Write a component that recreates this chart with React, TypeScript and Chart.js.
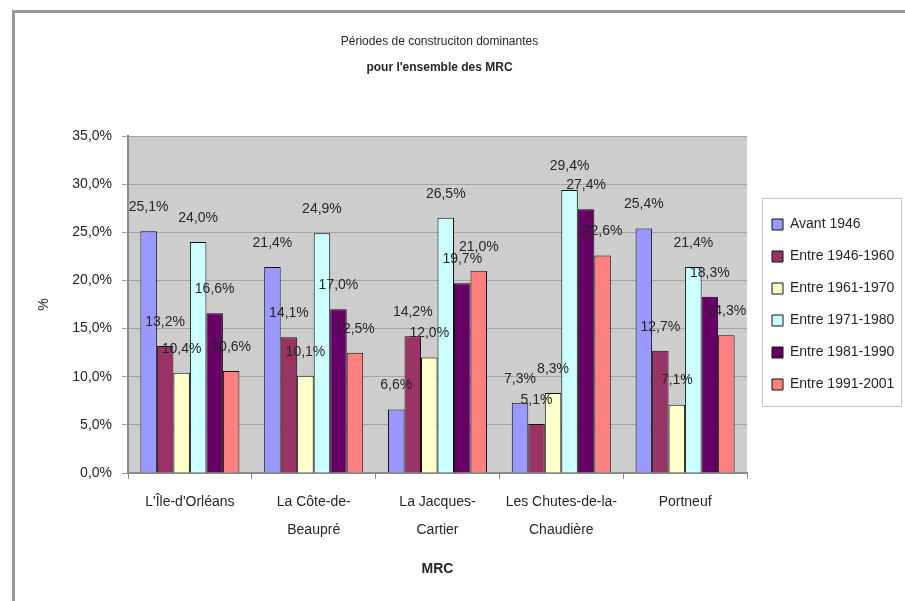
import React, { useEffect, useRef } from 'react';
import { Chart, registerables } from 'chart.js';

Chart.register(...registerables);

// ---- Data ----
const categories: string[][] = [
  ["L'Île-d'Orléans"],
  ['La Côte-de-', 'Beaupré'],
  ['La Jacques-', 'Cartier'],
  ['Les Chutes-de-la-', 'Chaudière'],
  ['Portneuf'],
];

const seriesNames = [
  'Avant 1946',
  'Entre 1946-1960',
  'Entre 1961-1970',
  'Entre 1971-1980',
  'Entre 1981-1990',
  'Entre 1991-2001',
];

const avant1946 = [25.1, 21.4, 6.6, 7.3, 25.4];
const entre1946_1960 = [13.2, 14.1, 14.2, 5.1, 12.7];
const entre1961_1970 = [10.4, 10.1, 12.0, 8.3, 7.1];
const entre1971_1980 = [24.0, 24.9, 26.5, 29.4, 21.4];
const entre1981_1990 = [16.6, 17.0, 19.7, 27.4, 18.3];
const entre1991_2001 = [10.6, 12.5, 21.0, 22.6, 14.3];

const seriesValues = [
  avant1946,
  entre1946_1960,
  entre1961_1970,
  entre1971_1980,
  entre1981_1990,
  entre1991_2001,
];

const seriesColors = ['#9999ff', '#993366', '#ffffcc', '#ccffff', '#660066', '#ff8080'];

const yMin = 0;
const yMax = 35;
const yStep = 5;

const titleLine1 = 'Périodes de construciton dominantes';
const titleLine2 = "pour l'ensemble des MRC";
const xTitle = 'MRC';
const yTitle = '%';

// ---- Styling ----
const FONT = '"Liberation Sans", Arial, Helvetica, sans-serif';
const TEXT = '#262626';
const fmt = (v: number) => v.toFixed(1).replace('.', ',') + '%';

const LEGEND_PAD = 18;
const LEGEND_W = 158;
const LEGEND_SHIFT = 7;

const backgroundPlugin = {
  id: 'bgFrame',
  beforeDraw(chart: any) {
    const { ctx, width, height, chartArea } = chart;
    ctx.save();
    ctx.fillStyle = '#ffffff';
    ctx.fillRect(0, 0, width, height);
    // plot area
    ctx.fillStyle = '#cdcdcd';
    ctx.fillRect(chartArea.left, chartArea.top, chartArea.right - chartArea.left, chartArea.bottom - chartArea.top);
    // outer frame
    ctx.strokeStyle = '#9a9a9a';
    ctx.lineWidth = 3;
    ctx.beginPath();
    ctx.moveTo(13.5, height + 2);
    ctx.lineTo(13.5, 11.5);
    ctx.lineTo(width + 2, 11.5);
    ctx.stroke();
    ctx.restore();
  },
};

const titlePlugin = {
  id: 'twoLineTitle',
  afterDraw(chart: any) {
    const { ctx, chartArea } = chart;
    const cx = (chartArea.left + chartArea.right) / 2 + 2;
    ctx.save();
    ctx.fillStyle = TEXT;
    ctx.textAlign = 'center';
    ctx.textBaseline = 'middle';
    ctx.font = `12px ${FONT}`;
    ctx.fillText(titleLine1, cx, 42);
    ctx.font = `bold 12px ${FONT}`;
    ctx.fillText(titleLine2, cx, 68);
    ctx.restore();
  },
};

const dataLabelPlugin = {
  id: 'dataLabels',
  afterDatasetsDraw(chart: any) {
    const { ctx } = chart;
    ctx.save();
    ctx.font = `14px ${FONT}`;
    ctx.fillStyle = TEXT;
    ctx.textAlign = 'center';
    ctx.textBaseline = 'middle';
    chart.data.datasets.forEach((ds: any, di: number) => {
      const meta = chart.getDatasetMeta(di);
      meta.data.forEach((bar: any, i: number) => {
        ctx.fillText(fmt(ds.data[i]), bar.x, bar.y - 24);
      });
    });
    ctx.restore();
  },
};

const legendPlugin = {
  id: 'legendTweak',
  afterInit(chart: any) {
    const lg = chart.legend;
    if (!lg) return;
    const origFit = lg.fit.bind(lg);
    lg.fit = function () {
      origFit();
      this.width = LEGEND_W;
    };
  },
  afterLayout(chart: any) {
    const lg = chart.legend;
    if (!lg) return;
    lg.left += LEGEND_SHIFT;
    lg.right += LEGEND_SHIFT;
    lg.top = chart.chartArea.top;
    lg.bottom = chart.chartArea.bottom;
  },
  afterDraw(chart: any) {
    const lg = chart.legend;
    if (!lg || !lg.columnSizes || !lg.columnSizes[0]) return;
    const { ctx } = chart;
    const colH = lg.columnSizes[0].height;
    const y0 = (lg.top + LEGEND_PAD + lg.bottom - colH) / 2;
    const left = lg.left + LEGEND_PAD - 10;
    const top = y0 - 20;
    const bottom = y0 + colH - LEGEND_PAD + 14;
    const right = chart.width - 4;
    ctx.save();
    ctx.strokeStyle = '#c8c8c8';
    ctx.lineWidth = 1;
    ctx.strokeRect(Math.round(left) + 0.5, Math.round(top) + 0.5, Math.round(right - left), Math.round(bottom - top));
    ctx.restore();
  },
};

export default function App() {
  const canvasRef = useRef<HTMLCanvasElement | null>(null);

  useEffect(() => {
    if (!canvasRef.current) return;
    const chart = new Chart(canvasRef.current, {
      type: 'bar',
      data: {
        labels: categories,
        datasets: seriesNames.map((name, i) => ({
          label: name,
          data: seriesValues[i],
          backgroundColor: seriesColors[i],
          borderColor: '#111111',
          borderWidth: 1,
          barPercentage: 1,
          categoryPercentage: 0.8,
        })),
      },
      options: {
        responsive: false,
        animation: false,
        devicePixelRatio: 1,
        layout: { padding: { top: 136, left: 20, right: 0, bottom: 19 } },
        plugins: {
          title: { display: false },
          tooltip: { enabled: false },
          legend: {
            display: true,
            position: 'right',
            align: 'center',
            labels: {
              boxWidth: 11,
              boxHeight: 11,
              padding: LEGEND_PAD,
              color: TEXT,
              font: { family: FONT, size: 14 },
            },
          },
        },
        scales: {
          x: {
            grid: {
              display: true,
              drawOnChartArea: false,
              drawTicks: true,
              tickLength: 6,
              color: '#8a8a8a',
              offset: true,
            },
            border: { display: true, color: '#8a8a8a', width: 2 },
            ticks: {
              color: TEXT,
              font: { family: FONT, size: 14, lineHeight: 2 },
              padding: 9,
              maxRotation: 0,
              minRotation: 0,
              autoSkip: false,
            },
            title: {
              display: true,
              text: xTitle,
              color: TEXT,
              font: { family: FONT, size: 14, weight: 'bold' },
              padding: { top: 0, bottom: 4 },
            },
            afterFit: (s: any) => {
              s.height = 109;
            },
          },
          y: {
            min: yMin,
            max: yMax,
            grid: {
              color: '#a4a4a4',
              lineWidth: 1,
              drawTicks: true,
              tickLength: 6,
            },
            border: { display: true, color: '#8a8a8a', width: 2 },
            ticks: {
              stepSize: yStep,
              color: TEXT,
              font: { family: FONT, size: 14 },
              padding: 10,
              callback: (v: any) => fmt(Number(v)),
            },
            title: {
              display: true,
              text: yTitle,
              color: TEXT,
              font: { family: FONT, size: 14 },
              padding: { top: 16, bottom: 0 },
            },
            afterFit: (s: any) => {
              s.width = 108;
            },
          },
        },
      },
      plugins: [backgroundPlugin, legendPlugin, dataLabelPlugin, titlePlugin],
    } as any);
    return () => chart.destroy();
  }, []);

  return (
    <div style={{ position: 'absolute', left: 0, top: 0, width: 905, height: 601 }}>
      <canvas ref={canvasRef} width={905} height={601} style={{ display: 'block', width: 905, height: 601 }} />
    </div>
  );
}
